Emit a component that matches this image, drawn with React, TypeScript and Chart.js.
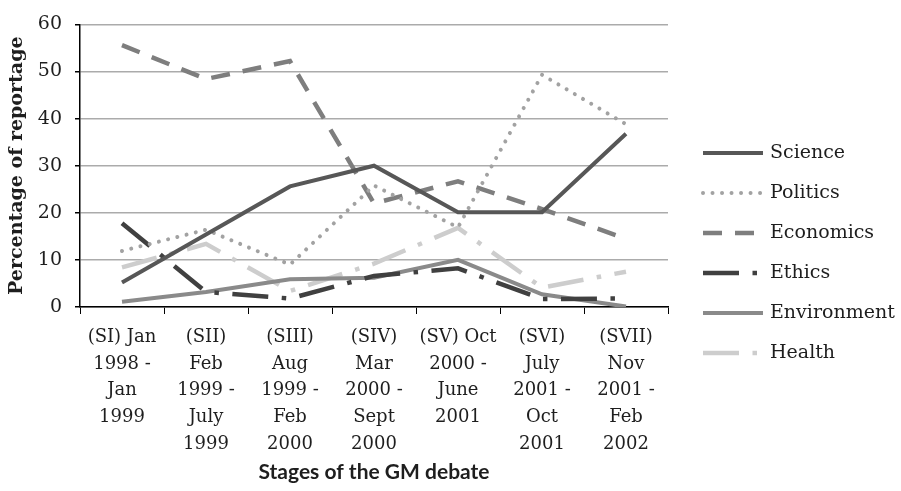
import React, { useEffect, useRef } from 'react';
import { Chart, registerables } from 'chart.js';

Chart.register(...registerables);

const categories: string[][] = [
  ['(SI) Jan', '1998 -', 'Jan', '1999'],
  ['(SII)', 'Feb', '1999 -', 'July', '1999'],
  ['(SIII)', 'Aug', '1999 -', 'Feb', '2000'],
  ['(SIV)', 'Mar', '2000 -', 'Sept', '2000'],
  ['(SV) Oct', '2000 -', 'June', '2001'],
  ['(SVI)', 'July', '2001 -', 'Oct', '2001'],
  ['(SVII)', 'Nov', '2001 -', 'Feb', '2002'],
];

const science = [5.2, 15.4, 25.6, 30.0, 20.1, 20.1, 36.8];
const politics = [11.9, 16.4, 9.0, 25.8, 16.9, 49.3, 38.8];
const economics = [55.6, 48.4, 52.2, 22.0, 26.7, 20.8, 14.5];
const ethics = [17.8, 3.2, 1.8, 6.6, 8.2, 1.7, 1.8];
const environment = [1.1, 3.2, 5.9, 6.2, 10.0, 2.7, 0.1];
const health = [8.4, 13.4, 3.4, 9.2, 16.8, 4.1, 7.5];

const yTicks = [0, 10, 20, 30, 40, 50, 60];

const W = 901;
const H = 491;
const PLOT_RIGHT = 668;
const PLOT_BOTTOM = 307;

const LEGEND_X = 703;
const LEGEND_LINE = 60;
const LEGEND_TEXT_GAP = 7;
const LEGEND_Y0 = 153;
const LEGEND_STEP = 40;

const SERIF = 'DejaVu Serif';
const TEXT = '#1e1e1e';

const sideLegend = {
  id: 'sideLegend',
  afterDraw(chart: any) {
    const ctx: CanvasRenderingContext2D = chart.ctx;
    chart.data.datasets.forEach((ds: any, i: number) => {
      const y = LEGEND_Y0 + i * LEGEND_STEP;
      ctx.save();
      ctx.strokeStyle = ds.borderColor;
      ctx.lineWidth = ds.borderWidth;
      ctx.lineCap = ds.borderCapStyle || 'butt';
      ctx.setLineDash(ds.borderDash || []);
      ctx.beginPath();
      ctx.moveTo(LEGEND_X, y);
      ctx.lineTo(LEGEND_X + LEGEND_LINE, y);
      ctx.stroke();
      ctx.setLineDash([]);
      ctx.fillStyle = TEXT;
      ctx.font = `19px "${SERIF}"`;
      ctx.textBaseline = 'middle';
      ctx.textAlign = 'left';
      ctx.fillText(ds.label, LEGEND_X + LEGEND_LINE + LEGEND_TEXT_GAP, y);
      ctx.restore();
    });
  },
};

export default function App() {
  const ref = useRef<HTMLCanvasElement>(null);

  useEffect(() => {
    document.body.style.margin = '0';
    const chart = new Chart(ref.current as HTMLCanvasElement, {
      type: 'line',
      data: {
        labels: categories,
        datasets: [
          {
            label: 'Science',
            data: science,
            borderColor: '#575757',
            backgroundColor: '#575757',
            borderWidth: 4,
          },
          {
            label: 'Politics',
            data: politics,
            borderColor: '#a2a2a2',
            backgroundColor: '#a2a2a2',
            borderWidth: 4,
            borderDash: [0.01, 9.5],
            borderCapStyle: 'round',
          },
          {
            label: 'Economics',
            data: economics,
            borderColor: '#7e7e7e',
            backgroundColor: '#7e7e7e',
            borderWidth: 4.5,
            borderDash: [19, 13],
          },
          {
            label: 'Ethics',
            data: ethics,
            borderColor: '#404040',
            backgroundColor: '#404040',
            borderWidth: 4.5,
            borderDash: [36, 13.5, 4.5, 13.5],
          },
          {
            label: 'Environment',
            data: environment,
            borderColor: '#8a8a8a',
            backgroundColor: '#8a8a8a',
            borderWidth: 4,
          },
          {
            label: 'Health',
            data: health,
            borderColor: '#cdcdcd',
            backgroundColor: '#cdcdcd',
            borderWidth: 4.5,
            borderDash: [36, 13.5, 4.5, 13.5],
          },
        ],
      },
      options: {
        responsive: false,
        animation: false,
        layout: { padding: { top: 15, right: W - PLOT_RIGHT, bottom: 0, left: 0 } },
        elements: {
          point: { radius: 0, hoverRadius: 0 },
          line: { tension: 0 },
        },
        plugins: {
          tooltip: { enabled: false },
          legend: { display: false },
        },
        scales: {
          x: {
            type: 'category',
            offset: true,
            grid: {
              display: true,
              drawOnChartArea: false,
              drawTicks: true,
              tickLength: 7,
              tickColor: '#000',
              offset: true,
            },
            border: { display: true, color: '#000', width: 1.5 },
            ticks: {
              autoSkip: false,
              maxRotation: 0,
              minRotation: 0,
              padding: 10,
              color: TEXT,
              font: { family: SERIF, size: 18, lineHeight: 1.483 },
            },
            title: {
              display: true,
              text: 'Stages of the GM debate',
              color: TEXT,
              font: { family: 'Lato', size: 21, weight: 'bold' },
              padding: { top: 0, bottom: 6 },
            },
            afterFit: (s: any) => {
              s.height = H - PLOT_BOTTOM;
            },
          },
          y: {
            type: 'linear',
            min: 0,
            max: 60,
            afterBuildTicks: (s: any) => {
              s.ticks = yTicks.map((v) => ({ value: v }));
            },
            grid: {
              color: '#ababab',
              lineWidth: 1.5,
              drawTicks: true,
              tickLength: 5,
              tickColor: '#000',
            },
            border: { display: true, color: '#000', width: 1.5 },
            ticks: {
              padding: 13,
              color: TEXT,
              font: { family: SERIF, size: 19 },
            },
            title: {
              display: true,
              text: 'Percentage of reportage',
              color: TEXT,
              font: { family: SERIF, size: 19, weight: 'bold' },
              padding: { top: 6, bottom: 0 },
            },
            afterFit: (s: any) => {
              s.width = 80;
            },
          },
        },
      },
      plugins: [sideLegend],
    } as any);
    return () => chart.destroy();
  }, []);

  return (
    <div style={{ position: 'absolute', left: 0, top: 0, width: W, height: H, background: '#fff' }}>
      <canvas ref={ref} width={W} height={H} />
    </div>
  );
}
